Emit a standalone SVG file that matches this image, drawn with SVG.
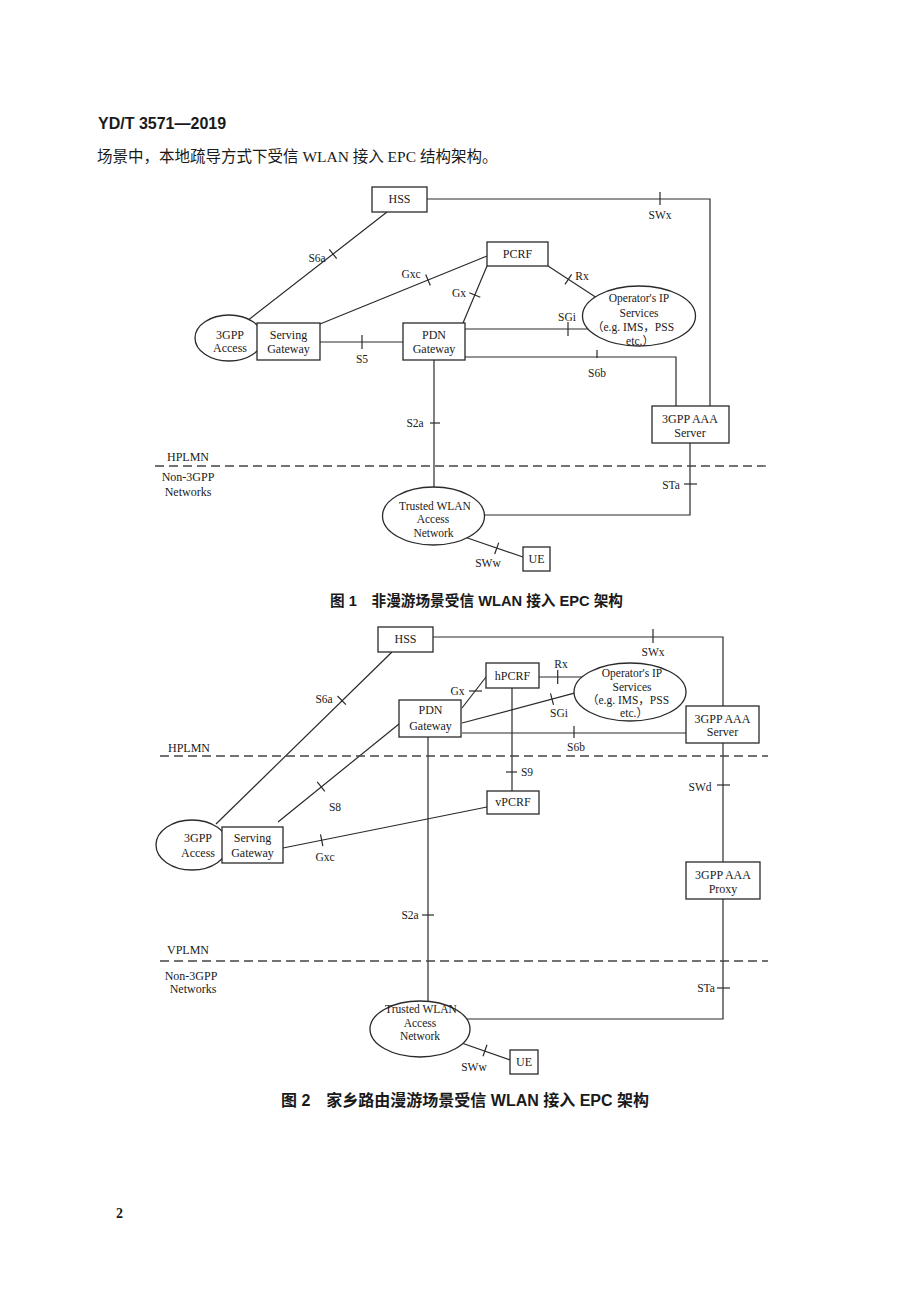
<svg xmlns="http://www.w3.org/2000/svg" width="920" height="1302" viewBox="0 0 920 1302">
<style>
.ln{stroke:#2a2a2a;stroke-width:1.2;fill:none}
.nd{fill:#fff;stroke:#2a2a2a;stroke-width:1.3}
.dash{stroke:#444;stroke-width:1.3;stroke-dasharray:9 5;fill:none}
.t{font-family:"Liberation Serif","Noto Sans CJK SC",serif;font-size:12px;fill:#1a1a1a;text-anchor:middle}
.te{font-family:"Liberation Serif","Noto Sans CJK SC",serif;font-size:11.5px;fill:#1a1a1a;text-anchor:middle}
.lb{font-family:"Liberation Serif","Noto Sans CJK SC",serif;font-size:11.5px;fill:#1a1a1a;text-anchor:middle}
.cap{font-family:"Liberation Sans","Noto Sans CJK SC",sans-serif;font-size:16px;font-weight:bold;fill:#1a1a1a}
</style>
<rect width="920" height="1302" fill="#fff"/>

<g id="page-text">
<text x="98" y="129" style="font-family:'Liberation Sans',sans-serif;font-size:16px;font-weight:bold;fill:#1a1a1a">YD/T 3571—2019</text>
<text x="97" y="162" style="font-family:'Liberation Serif','Noto Sans CJK SC',serif;font-size:15.5px;fill:#1a1a1a">场景中，本地疏导方式下受信 WLAN 接入 EPC 结构架构。</text>
<text x="330" y="606" class="cap" style="font-size:15px" textLength="293" lengthAdjust="spacingAndGlyphs">图 1　非漫游场景受信 WLAN 接入 EPC 架构</text>
<text x="281" y="1106" class="cap">图 2　家乡路由漫游场景受信 WLAN 接入 EPC 架构</text>
<text x="116" y="1218" style="font-family:'Liberation Serif',serif;font-size:14px;font-weight:bold;fill:#1a1a1a">2</text>
</g>

<!-- ===== Figure 1 connectors ===== -->
<g id="connectors-fig1">
<polyline class="ln" points="427,199 710,199 710,406"/>
<line class="ln" x1="660" y1="192" x2="660" y2="205"/>
<line class="ln" x1="249" y1="319.5" x2="387" y2="212"/>
<line class="ln" x1="329.3" y1="249.3" x2="336.7" y2="258.7"/>
<line class="ln" x1="320" y1="324" x2="487" y2="256"/>
<line class="ln" x1="425.7" y1="274.4" x2="430.3" y2="285.6"/>
<line class="ln" x1="463" y1="323" x2="487" y2="266"/>
<line class="ln" x1="469.3" y1="292.7" x2="480.3" y2="297.3"/>
<line class="ln" x1="548" y1="266" x2="597" y2="298"/>
<line class="ln" x1="571.6" y1="274.4" x2="565" y2="284.4"/>
<line class="ln" x1="465" y1="329" x2="590" y2="329"/>
<line class="ln" x1="568" y1="322" x2="568" y2="336"/>
<line class="ln" x1="320" y1="342" x2="403" y2="342"/>
<line class="ln" x1="362" y1="335" x2="362" y2="349"/>
<polyline class="ln" points="465,357 676,357 676,406"/>
<line class="ln" x1="597" y1="350" x2="597" y2="358"/>
<line class="ln" x1="434" y1="360" x2="434" y2="487"/>
<line class="ln" x1="430" y1="423" x2="440" y2="423"/>
<polyline class="ln" points="480,515 690,515 690,443"/>
<line class="ln" x1="684" y1="484" x2="697" y2="484"/>
<line class="ln" x1="466" y1="537.5" x2="523" y2="557"/>
<line class="ln" x1="498.7" y1="542.6" x2="494.7" y2="554"/>
<line class="dash" x1="155" y1="466" x2="768" y2="466"/>
<text class="lb" x="317" y="262">S6a</text>
<text class="lb" x="411" y="278">Gxc</text>
<text class="lb" x="459" y="297">Gx</text>
<text class="lb" x="362" y="363">S5</text>
<text class="lb" x="582" y="280">Rx</text>
<text class="lb" x="567" y="321">SGi</text>
<text class="lb" x="597" y="377">S6b</text>
<text class="lb" x="660" y="219">SWx</text>
<text class="lb" x="415" y="427">S2a</text>
<text class="lb" x="671" y="489">STa</text>
<text class="lb" x="488" y="567">SWw</text>
<text class="t" x="167" y="461" style="text-anchor:start">HPLMN</text>
<text class="t" x="188" y="481">Non-3GPP</text>
<text class="t" x="188" y="496">Networks</text>
</g>

<!-- ===== Figure 1 nodes ===== -->
<g id="f1-hss"><rect class="nd" x="372" y="187" width="55" height="25"/><text class="t" x="399.5" y="203">HSS</text></g>
<g id="f1-pcrf"><rect class="nd" x="487" y="242" width="61" height="24"/><text class="t" x="517.5" y="258">PCRF</text></g>
<g id="f1-ops"><ellipse class="nd" cx="639" cy="316" rx="56.5" ry="30"/>
<text class="te" x="639" y="302">Operator's IP</text><text class="te" x="639" y="316.5">Services</text>
<text class="te" x="633" y="330.5">（e.g. IMS，PSS</text><text class="te" x="640" y="344.5">etc.）</text></g>
<g id="f1-access"><ellipse class="nd" cx="229" cy="338" rx="34" ry="23"/><text class="t" x="230" y="339">3GPP</text><text class="t" x="230" y="352">Access</text></g>
<g id="f1-sgw"><rect class="nd" x="257" y="323" width="63" height="37"/><text class="t" x="288.5" y="339">Serving</text><text class="t" x="288.5" y="353">Gateway</text></g>
<g id="f1-pgw"><rect class="nd" x="403" y="323" width="62" height="37"/><text class="t" x="434" y="339">PDN</text><text class="t" x="434" y="353">Gateway</text></g>
<g id="f1-aaa"><rect class="nd" x="652" y="406" width="77" height="37"/><text class="t" x="690" y="423">3GPP AAA</text><text class="t" x="690" y="437">Server</text></g>
<g id="f1-twan"><ellipse class="nd" cx="433.5" cy="516" rx="51" ry="29"/><text class="te" x="435" y="510">Trusted WLAN</text><text class="te" x="433" y="523">Access</text><text class="te" x="433.5" y="537">Network</text></g>
<g id="f1-ue"><rect class="nd" x="523" y="547" width="27" height="24"/><text class="t" x="536.5" y="563">UE</text></g>

<!-- ===== Figure 2 connectors ===== -->
<g id="connectors-fig2">
<polyline class="ln" points="433,637 723,637 723,706"/>
<line class="ln" x1="653" y1="629" x2="653" y2="643"/>
<line class="ln" x1="723" y1="743" x2="723" y2="862"/>
<line class="ln" x1="717" y1="785" x2="730" y2="785"/>
<polyline class="ln" points="465,1019 723,1019 723,899"/>
<line class="ln" x1="717" y1="988" x2="730" y2="988"/>
<line class="ln" x1="216" y1="824" x2="392" y2="652"/>
<line class="ln" x1="337.5" y1="696" x2="345.9" y2="704.6"/>
<line class="ln" x1="462" y1="708" x2="486" y2="677"/>
<line class="ln" x1="469" y1="691" x2="482" y2="691"/>
<line class="ln" x1="539" y1="677" x2="585" y2="677"/>
<line class="ln" x1="557.7" y1="670" x2="557.7" y2="684"/>
<line class="ln" x1="462" y1="723" x2="578" y2="692.2"/>
<line class="ln" x1="550.5" y1="693.3" x2="553.5" y2="704.9"/>
<line class="ln" x1="462" y1="733" x2="686" y2="733"/>
<line class="ln" x1="574" y1="726" x2="574" y2="738"/>
<line class="ln" x1="512" y1="688" x2="512" y2="791"/>
<line class="ln" x1="506" y1="772" x2="517" y2="772"/>
<line class="ln" x1="399" y1="724" x2="278" y2="822"/>
<line class="ln" x1="317.2" y1="781.9" x2="324.8" y2="791.3"/>
<line class="ln" x1="283" y1="848" x2="487" y2="807"/>
<line class="ln" x1="320.5" y1="834.3" x2="322.9" y2="846.1"/>
<line class="ln" x1="428" y1="737" x2="428" y2="1002"/>
<line class="ln" x1="422" y1="915" x2="434" y2="915"/>
<line class="ln" x1="453" y1="1040" x2="510" y2="1060"/>
<line class="ln" x1="487" y1="1044.8" x2="483" y2="1056.2"/>
<line class="dash" x1="160" y1="756" x2="768" y2="756"/>
<line class="dash" x1="160" y1="961" x2="768" y2="961"/>
<text class="lb" x="324" y="703">S6a</text>
<text class="lb" x="457.5" y="695">Gx</text>
<text class="lb" x="335" y="811">S8</text>
<text class="lb" x="561" y="668">Rx</text>
<text class="lb" x="653" y="656">SWx</text>
<text class="lb" x="559" y="717">SGi</text>
<text class="lb" x="576" y="751">S6b</text>
<text class="lb" x="527" y="776">S9</text>
<text class="lb" x="700" y="791">SWd</text>
<text class="lb" x="325" y="861">Gxc</text>
<text class="lb" x="410" y="919">S2a</text>
<text class="lb" x="706" y="992">STa</text>
<text class="lb" x="474" y="1071">SWw</text>
<text class="t" x="168" y="752" style="text-anchor:start">HPLMN</text>
<text class="t" x="167" y="954" style="text-anchor:start">VPLMN</text>
<text class="t" x="191" y="980">Non-3GPP</text>
<text class="t" x="193" y="993">Networks</text>
</g>

<!-- ===== Figure 2 nodes ===== -->
<g id="f2-hss"><rect class="nd" x="378" y="627" width="55" height="25"/><text class="t" x="405.5" y="643">HSS</text></g>
<g id="f2-hpcrf"><rect class="nd" x="486" y="663" width="53" height="25"/><text class="t" x="512.5" y="680">hPCRF</text></g>
<g id="f2-ops"><ellipse class="nd" cx="630" cy="692" rx="56" ry="29"/>
<text class="te" x="632" y="677">Operator's IP</text><text class="te" x="632" y="690.5">Services</text>
<text class="te" x="628" y="704">（e.g. IMS，PSS</text><text class="te" x="634" y="717">etc.）</text></g>
<g id="f2-pgw"><rect class="nd" x="399" y="700" width="62" height="37"/><text class="t" x="430.5" y="714">PDN</text><text class="t" x="430.5" y="730">Gateway</text></g>
<g id="f2-aaa"><rect class="nd" x="686" y="706" width="73" height="37"/><text class="t" x="722.5" y="722.5">3GPP AAA</text><text class="t" x="722.5" y="736">Server</text></g>
<g id="f2-vpcrf"><rect class="nd" x="487" y="791" width="52" height="23"/><text class="t" x="513" y="806">vPCRF</text></g>
<g id="f2-access"><ellipse class="nd" cx="192" cy="845" rx="36" ry="25"/><text class="t" x="198" y="842">3GPP</text><text class="t" x="198" y="857">Access</text></g>
<g id="f2-sgw"><rect class="nd" x="222" y="827" width="61" height="36"/><text class="t" x="252.5" y="842">Serving</text><text class="t" x="252.5" y="857">Gateway</text></g>
<g id="f2-proxy"><rect class="nd" x="686" y="862" width="74" height="37"/><text class="t" x="723" y="879">3GPP AAA</text><text class="t" x="723" y="893">Proxy</text></g>
<g id="f2-twan"><ellipse class="nd" cx="420" cy="1029" rx="50" ry="28"/><text class="te" x="421" y="1013">Trusted WLAN</text><text class="te" x="420" y="1026.5">Access</text><text class="te" x="420" y="1040">Network</text></g>
<g id="f2-ue"><rect class="nd" x="510" y="1050" width="28" height="24"/><text class="t" x="524" y="1066">UE</text></g>
</svg>
